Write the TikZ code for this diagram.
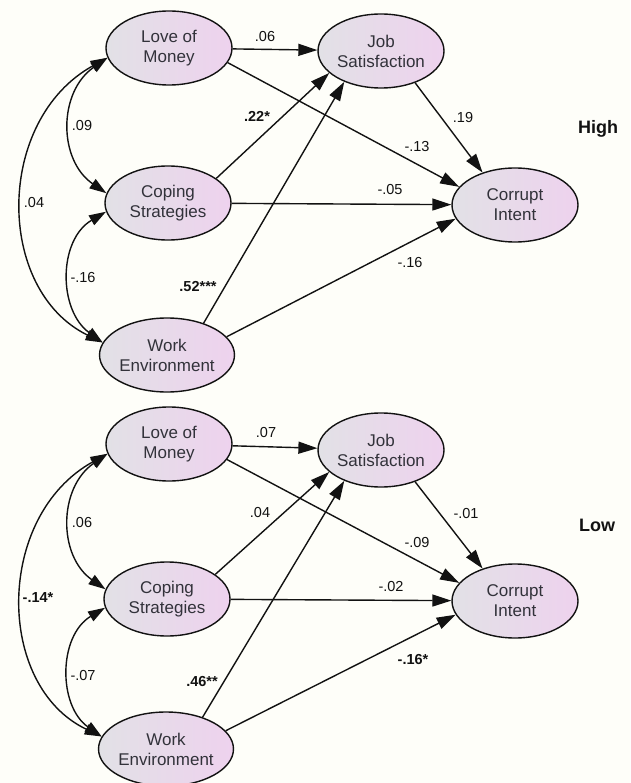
\documentclass[tikz,border=0pt]{standalone}
\usepackage{fontspec}
\setmainfont{Liberation Sans}
\usetikzlibrary{arrows.meta,shapes.geometric}
\definecolor{bg}{RGB}{254,254,249}
\definecolor{ellA}{RGB}{226,225,230}
\definecolor{ellB}{RGB}{238,210,238}
\definecolor{ink}{RGB}{18,18,18}
\definecolor{txt}{RGB}{50,50,58}
\begin{document}
\begin{tikzpicture}[x=1pt,y=-1pt,
  var/.style={ellipse, draw=ink, line width=1.4pt, left color=ellA, right color=ellB,
    minimum width=126pt, minimum height=74pt, inner sep=0pt, align=center,
    font=\fontsize{17}{20}\selectfont, text=txt},
  arr/.style={draw=ink, line width=1.4pt, -{Triangle[length=19pt,width=12pt]}},
  cov/.style={draw=ink, line width=1.4pt, {Triangle[length=17pt,width=11pt]}-{Triangle[length=17pt,width=11pt]}},
  lab/.style={font=\fontsize{14.5}{16}\selectfont, text=ink},
  blab/.style={font=\bfseries\fontsize{14.5}{16}\selectfont, text=ink},
  grp/.style={font=\bfseries\fontsize{18}{20}\selectfont, text=ink}]
\fill[bg] (0,0) rectangle (630,783);
\useasboundingbox (0,0) rectangle (630,783);
% ---------- High panel ----------
\node[var] (lomH) at (169,48) {Love of\\Money};
\node[var] (jsH) at (381,51) {Job\\Satisfaction};
\node[var] (csH) at (168,203) {Coping\\Strategies};
\node[var] (weH) at (167,355) {Work\\Environment};
\node[var] (ciH) at (515,205) {Corrupt\\Intent};
\draw[arr] (lomH) -- (jsH);
\draw[arr] (lomH.-14) -- (ciH.162);
\draw[arr] (csH.27) -- (jsH.203);
\draw[arr] (weH.41) -- (jsH.220);
\draw[arr] (csH) -- (ciH);
\draw[arr] (weH.17) -- (ciH.193);
\draw[arr] (jsH.-43) -- (ciH.135);
\draw[cov] (lomH.189) .. controls (58,92) and (58,160) .. (csH.171);
\draw[cov] (csH.188) .. controls (58,240) and (58,310) .. (weH.169);
\draw[cov] (lomH.189) .. controls (-5,120) and (-5,290) .. (weH.169);
\node[lab] (l1H) at (265,37) {.06};
\node[lab] (l2H) at (417,147) {-.13};
\node[blab] (l3H) at (257,116) {.22*};
\node[blab] (l4H) at (198,287) {.52***};
\node[lab] (l5H) at (390,190) {-.05};
\node[lab] (l6H) at (410,263) {-.16};
\node[lab] (l7H) at (463,118) {.19};
\node[lab] (l8H) at (82,126) {.09};
\node[lab] (l9H) at (83,278) {-.16};
\node[lab] (l10H) at (34,203) {.04};
\node[grp] (gH) at (598,129) {High};
% ---------- Low panel ----------
\node[var] (lomL) at (169,444) {Love of\\Money};
\node[var] (jsL) at (381,450) {Job\\Satisfaction};
\node[var] (csL) at (167,599) {Coping\\Strategies};
\node[var] (weL) at (166,749) {Work\\Environment};
\node[var] (ciL) at (515,601) {Corrupt\\Intent};
\draw[arr] (lomL) -- (jsL);
\draw[arr] (lomL.-15) -- (ciL.162);
\draw[arr] (csL.27) -- (jsL.203);
\draw[arr] (weL.41) -- (jsL.220);
\draw[arr] (csL) -- (ciL);
\draw[arr] (weL.17) -- (ciL.193);
\draw[arr] (jsL.-43) -- (ciL.135);
\draw[cov] (lomL.189) .. controls (58,488) and (58,556) .. (csL.171);
\draw[cov] (csL.188) .. controls (58,636) and (58,706) .. (weL.169);
\draw[cov] (lomL.189) .. controls (-5,516) and (-5,686) .. (weL.169);
\node[lab] (l1L) at (266,433) {.07};
\node[lab] (l2L) at (417,543) {-.09};
\node[lab] (l3L) at (260,513) {.04};
\node[blab] (l4L) at (202,682) {.46**};
\node[lab] (l5L) at (391,587) {-.02};
\node[blab] (l6L) at (413,660) {-.16*};
\node[lab] (l7L) at (466,514) {-.01};
\node[lab] (l8L) at (82,523) {.06};
\node[lab] (l9L) at (83,676) {-.07};
\node[blab] (l10L) at (38,598) {-.14*};
\node[grp] (gL) at (597,525) {Low};
\end{tikzpicture}
\end{document}
